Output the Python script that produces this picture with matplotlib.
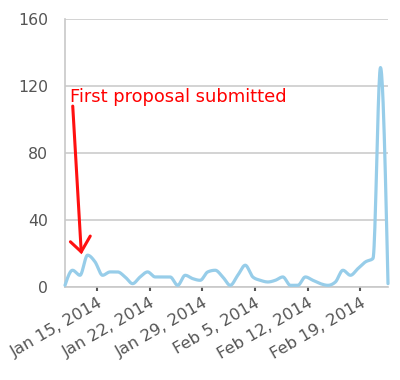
import numpy as np
import matplotlib
matplotlib.use("Agg")
import matplotlib.pyplot as plt
import matplotlib.dates as mdates
from datetime import datetime, timedelta

# ---- data ----
start = datetime(2014, 1, 10, 17, 0)
values = [1, 10, 7, 19, 15, 7, 9, 9, 6, 2, 6, 9, 6, 6, 6, 1, 7, 5, 4, 9,
          10, 6, 1, 7, 13, 6, 4, 3, 4, 6, 1, 1, 6, 4, 2, 1, 3, 10, 7, 11,
          15, 17, 131, 2]
dates = [start + timedelta(days=i) for i in range(len(values))]
y_ticks = [0, 40, 80, 120, 160]
annotation_text = "First proposal submitted"

# ---- monotone (Steffen) smoothing, like d3.curveMonotoneX ----
def monotone(x, y, n=20):
    x = np.asarray(x, float); y = np.asarray(y, float)
    h = np.diff(x); s = np.diff(y) / h
    m = np.zeros_like(y)
    for i in range(1, len(y) - 1):
        p = (s[i-1] * h[i] + s[i] * h[i-1]) / (h[i-1] + h[i])
        m[i] = (np.sign(s[i-1]) + np.sign(s[i])) * min(abs(s[i-1]), abs(s[i]), 0.5 * abs(p))
    m[0] = (3 * s[0] - m[1]) / 2
    m[-1] = (3 * s[-1] - m[-2]) / 2
    xs, ys = [], []
    for i in range(len(y) - 1):
        t = np.linspace(0, 1, n, endpoint=False)
        h00 = 2*t**3 - 3*t**2 + 1; h10 = t**3 - 2*t**2 + t
        h01 = -2*t**3 + 3*t**2; h11 = t**3 - t**2
        xs.append(x[i] + t * h[i])
        ys.append(h00*y[i] + h10*h[i]*m[i] + h01*y[i+1] + h11*h[i]*m[i+1])
    xs.append([x[-1]]); ys.append([y[-1]])
    return np.concatenate(xs), np.concatenate(ys)

xn = mdates.date2num(dates)
sx, sy = monotone(xn, values)

fig = plt.figure(figsize=(4.0, 3.8), dpi=100)
ax = fig.add_axes([65/400, 93/380, 323/400, 268/380])

ax.plot(sx, sy, color="#97CDE9", lw=2.3, solid_capstyle="round", zorder=3, clip_on=False)

ax.set_xlim(xn[0], xn[-1])
ax.set_ylim(0, 160)
ax.set_yticks(y_ticks)
ax.yaxis.grid(True, color="#cccccc", lw=1.2)
ax.set_axisbelow(True)
for side in ["top", "right"]:
    ax.spines[side].set_visible(False)
for side in ["left", "bottom"]:
    ax.spines[side].set_color("#c8c8c8")
    ax.spines[side].set_linewidth(1.2)
ax.tick_params(axis="y", length=0, labelsize=11.3, labelcolor="#555555", pad=12)

ax.xaxis.set_major_locator(mdates.WeekdayLocator(byweekday=mdates.WE))
ax.xaxis.set_major_formatter(mdates.DateFormatter("%b %-d, %Y"))
ax.tick_params(axis="x", length=3, width=1.5, color="#555555", labelsize=11.8,
               labelcolor="#555555", pad=3)
for lab in ax.get_xticklabels():
    lab.set_rotation(30)
    lab.set_ha("right")
    lab.set_rotation_mode("anchor")

# annotation
x0 = mdates.date2num(start)
ax.text(x0 + 0.7, 110.6, annotation_text, color="#ff0000", fontsize=12.9,
        va="baseline", ha="left")
tail = (x0 + 1.03, 108)
head = (x0 + 2.16, 21)
ax.plot([tail[0], head[0]], [tail[1], head[1]], color="#ff1010", lw=2.2,
        solid_capstyle="round", zorder=4)
ax.plot([x0 + 0.72, head[0], x0 + 3.36], [27, head[1], 30.4],
        color="#ff1010", lw=2.2, solid_capstyle="round", solid_joinstyle="miter", zorder=4)

fig.savefig("out.png", dpi=100)
